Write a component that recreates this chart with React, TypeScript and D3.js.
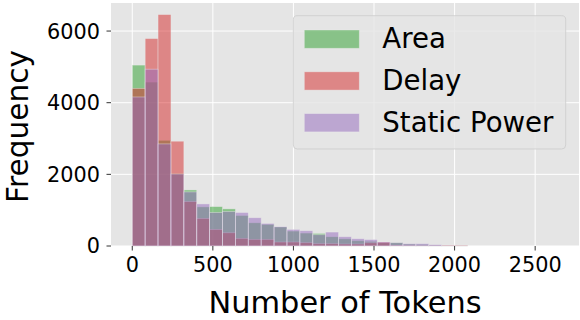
import React from 'react';
import * as d3 from 'd3';

// histogram bins: 80 tokens wide, 0..2640
const binEdges = d3.range(0, 2641, 80);

const seriesNames = ['Area', 'Delay', 'Static Power'];
const seriesColors = ['#2ca02c', '#d62728', '#9467bd'];

const areaCounts = [
  5050, 4575, 2950, 2020, 1565, 1092, 1100, 1037, 852, 648, 602, 530, 417, 361, 352, 259,
  200, 148, 130, 90, 92, 50, 40, 20, 10, 5, 0, 0, 0, 0, 0, 0, 0,
];
const delayCounts = [
  4400, 5790, 6460, 2925, 1240, 770, 463, 370, 213, 185, 185, 111, 111, 92, 65, 65,
  55, 55, 90, 111, 20, 15, 12, 10, 25, 20, 0, 0, 0, 0, 0, 0, 0,
];
const staticPowerCounts = [
  4160, 4935, 2850, 2010, 1510, 1175, 935, 963, 935, 790, 630, 540, 463, 426, 315, 389,
  259, 204, 180, 111, 92, 65, 65, 37, 10, 5, 0, 0, 0, 0, 0, 0, 0,
];
const seriesCounts = [areaCounts, delayCounts, staticPowerCounts];

const xTicks = [0, 500, 1000, 1500, 2000, 2500];
const yTicks = [0, 2000, 4000, 6000];

const W = 580;
const H = 320;
const plot = { left: 111, right: 579, top: 3, bottom: 246 };
const FONT = 'DejaVu Sans, sans-serif';

export default function App() {
  const [x0, x1] = d3.extent(binEdges) as [number, number];
  const pad = (x1 - x0) * 0.05;
  const x = d3.scaleLinear().domain([x0 - pad, x1 + pad]).range([plot.left, plot.right]);
  const yMax = d3.max(seriesCounts.flat()) as number;
  const y = d3.scaleLinear().domain([0, yMax * 1.05]).range([plot.bottom, plot.top]);

  return (
    <div style={{ position: 'absolute', left: 0, top: 0 }}>
      <svg width={W} height={H} style={{ display: 'block', fontFamily: FONT }}>
        <rect x={0} y={0} width={W} height={H} fill="#ffffff" />
        <rect
          x={plot.left}
          y={plot.top}
          width={plot.right - plot.left}
          height={plot.bottom - plot.top}
          fill="#e5e5e5"
        />
        {/* grid */}
        {xTicks.map((t) => (
          <line key={'gx' + t} x1={x(t)} x2={x(t)} y1={plot.top} y2={plot.bottom} stroke="#ffffff" strokeWidth={1} />
        ))}
        {yTicks.map((t) => (
          <line key={'gy' + t} x1={plot.left} x2={plot.right} y1={y(t)} y2={y(t)} stroke="#ffffff" strokeWidth={1} />
        ))}
        {/* bars */}
        {seriesCounts.map((counts, si) => (
          <g key={seriesNames[si]}>
            {counts.map((c, i) =>
              c > 0 ? (
                <rect
                  key={i}
                  x={x(binEdges[i])}
                  y={y(c)}
                  width={x(binEdges[i + 1]) - x(binEdges[i])}
                  height={y(0) - y(c)}
                  fill={seriesColors[si]}
                  fillOpacity={0.5}
                  stroke="#eeeeee"
                  strokeOpacity={0.5}
                  strokeWidth={0.8}
                />
              ) : null
            )}
          </g>
        ))}
        {/* x axis */}
        {xTicks.map((t) => (
          <g key={'xt' + t}>
            <line x1={x(t)} x2={x(t)} y1={plot.bottom} y2={plot.bottom + 4.5} stroke="#333" strokeWidth={1} />
            <text x={x(t)} y={272} textAnchor="middle" fontSize={20.8} fill="#000">
              {t}
            </text>
          </g>
        ))}
        {/* y axis */}
        {yTicks.map((t) => (
          <g key={'yt' + t}>
            <line x1={plot.left - 4.5} x2={plot.left} y1={y(t)} y2={y(t)} stroke="#333" strokeWidth={1} />
            <text x={100} y={y(t)} dy="0.36em" textAnchor="end" fontSize={20.8} fill="#000">
              {t}
            </text>
          </g>
        ))}
        <text x={(plot.left + plot.right) / 2} y={313} textAnchor="middle" fontSize={30.4} fill="#000">
          Number of Tokens
        </text>
        <text
          transform={`translate(27.8, 126.5) rotate(-90)`}
          textAnchor="middle"
          fontSize={29.6}
          fill="#000"
        >
          Frequency
        </text>
        {/* legend */}
        <g>
          <rect
            x={293.3}
            y={15.7}
            width={272.4}
            height={133.3}
            rx={4}
            fill="#e5e5e5"
            fillOpacity={0.8}
            stroke="#cccccc"
            strokeOpacity={0.8}
            strokeWidth={1}
          />
          {seriesNames.map((name, i) => (
            <g key={name}>
              <rect
                x={304.3}
                y={30 + i * 41.8}
                width={55}
                height={18.3}
                fill={seriesColors[i]}
                fillOpacity={0.5}
                stroke="#eeeeee"
                strokeOpacity={0.5}
                strokeWidth={0.8}
              />
              <text x={382.3} y={48.3 + i * 41.7} fontSize={27.6} fill="#000">
                {name}
              </text>
            </g>
          ))}
        </g>
      </svg>
    </div>
  );
}
